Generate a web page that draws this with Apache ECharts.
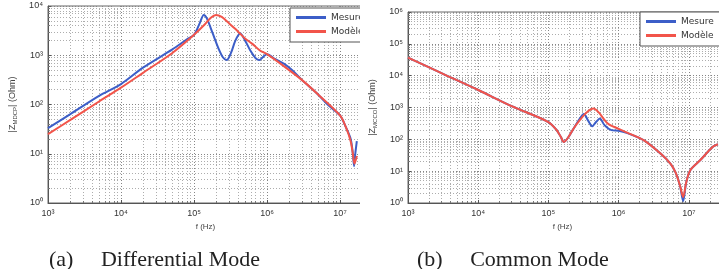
<!DOCTYPE html>
<html>
<head>
<meta charset="utf-8">
<script src="https://cdn.jsdelivr.net/npm/echarts@6/dist/echarts.min.js"></script>
<style>
	body { margin: 0; background: #fff; }
	.clip { position: absolute; top: 0; height: 269px; overflow: hidden; }
	.chart { position: absolute; left: 0; top: 0; height: 269px; }
</style>
</head>
<body>
<div class="clip" style="left:0;width:360px"><div id="dm" class="chart" style="width:430px"></div></div>
<div class="clip" style="left:360px;width:359px"><div id="cm" class="chart" style="width:420px"></div></div>
<script>
// mode differentiel - mesure
var freqDmMes = [1e3, 2e3, 5e3, 1e4, 2e4, 5e4, 8e4, 1e5, 1.2e5, 1.36e5, 1.5e5, 1.8e5, 2.2e5, 2.5e5, 2.8e5, 3.2e5, 3.7e5, 4.3e5, 5e5, 6e5, 7e5, 7.9e5, 9e5, 1e6, 1.3e6, 1.74e6, 2.2e6, 3e6, 5e6, 7e6, 1e7, 1.2e7, 1.4e7, 1.5e7, 1.56e7, 1.62e7, 1.7e7]
var zDmMes = [33, 63, 150, 260, 560, 1300, 2100, 2600, 4500, 6600, 5600, 2800, 1300, 900, 800, 1100, 2000, 2750, 2000, 1200, 870, 800, 950, 1050, 830, 660, 500, 316, 160, 95, 60, 35, 20, 10, 5.6, 10, 18]
// mode differentiel - modele
var freqDmMod = [1e3, 2e3, 5e3, 1e4, 2e4, 5e4, 1e5, 1.4e5, 1.7e5, 2e5, 2.4e5, 3e5, 3.7e5, 5e5, 6.3e5, 8e5, 1e6, 1.7e6, 3e6, 5e6, 1e7, 1.2e7, 1.4e7, 1.5e7, 1.58e7, 1.7e7]
var zDmMod = [25, 48, 115, 220, 440, 1100, 2600, 4200, 5800, 6600, 6000, 4500, 3400, 2200, 1700, 1250, 1050, 600, 316, 160, 60, 35, 18, 10, 6.3, 9]
// mode commun - mesure
var freqCmMes = [1e3, 3e3, 1e4, 3e4, 1e5, 1.3e5, 1.5e5, 1.66e5, 1.9e5, 2.3e5, 2.8e5, 3.2e5, 3.7e5, 4.2e5, 4.8e5, 5.4e5, 6.3e5, 7.9e5, 1e6, 1.3e6, 2.3e6, 4e6, 5.5e6, 6.5e6, 7.5e6, 8.3e6, 9.2e6, 1.05e7, 1.45e7, 2.2e7, 2.6e7]
var zCmMes = [37000, 12000, 3550, 1100, 350, 200, 120, 83, 112, 224, 450, 620, 380, 257, 355, 450, 280, 195, 186, 160, 93, 35, 17, 9, 3.5, 1.15, 4.5, 10.7, 22, 58, 70]
// mode commun - modele
var freqCmMod = [1e3, 3e3, 1e4, 3e4, 1e5, 1.3e5, 1.5e5, 1.66e5, 1.9e5, 2.3e5, 2.8e5, 3.5e5, 4.4e5, 5.2e5, 7e5, 1e6, 1.3e6, 2.3e6, 4e6, 5.5e6, 6.5e6, 7.5e6, 8.3e6, 9.2e6, 1.05e7, 1.45e7, 2.2e7, 2.6e7]
var zCmMod = [37000, 12000, 3550, 1100, 350, 200, 120, 83, 112, 224, 400, 700, 930, 700, 316, 214, 166, 93, 35, 17, 9, 3.5, 1.55, 4.5, 10.7, 22, 58, 70]

var legendNames = ['Mesure', 'Modèle']
var colors = ['#3c5ec8', '#f2544a']
var sup = ['⁰', '¹', '²', '³', '⁴', '⁵', '⁶', '⁷', '⁸']

function pairs(f, z){
	var out = []
	for (var i = 0; i < f.length; i++) out.push([f[i], z[i]])
	return out
}

function powLabel(v){
	var e = Math.round(Math.log10(v))
	if (Math.abs(Math.log10(v) - e) > 1e-6) return ''
	return '10' + sup[e]
}

function makeOption(cfg){
	var gridLine = { show: true, lineStyle: { color: '#858585', type: [1, 2], width: 1 } }
	var minorLine = { show: true, lineStyle: { color: '#adadad', type: [1, 2], width: 1 } }
	return {
		animation: false,
		title: {
			text: cfg.caption,
			left: cfg.capLeft, top: 244,
			textStyle: { fontFamily: 'Liberation Serif', fontSize: 22, fontWeight: 'normal', color: '#222' }
		},
		legend: {
			orient: 'vertical',
			left: cfg.legLeft, top: cfg.legTop,
			data: legendNames,
			icon: 'rect', itemWidth: 30, itemHeight: 3, itemGap: 5,
			padding: [5, 40, 6, 6],
			backgroundColor: '#fff', borderColor: '#555', borderWidth: 1,
			textStyle: { fontSize: 9, color: '#333', fontFamily: 'DejaVu Sans' }
		},
		grid: { left: 43, top: cfg.top, height: 203 - cfg.top, width: cfg.width, show: true, borderColor: '#666', borderWidth: 1, backgroundColor: '#fff' },
		xAxis: {
			type: 'log', logBase: 10, min: 1e3, max: 1e8,
			name: 'f (Hz)', nameLocation: 'middle', nameGap: 20,
			nameTextStyle: { fontSize: 8, color: '#444', padding: [0, cfg.namePad, 0, 0] },
			axisLine: { lineStyle: { color: '#555' } },
			axisTick: { inside: true, length: 3, lineStyle: { color: '#555' } },
			minorTick: { show: true, splitNumber: 9, length: 2, lineStyle: { color: '#777' } },
			axisLabel: { fontSize: 9, color: '#333', margin: 6, formatter: powLabel },
			splitLine: gridLine,
			minorSplitLine: minorLine
		},
		yAxis: {
			type: 'log', logBase: 10, min: 1, max: cfg.yMax,
			name: cfg.yName, nameLocation: 'middle', nameGap: 30, nameRotate: 90,
			nameTextStyle: { fontSize: 9, color: '#444', rich: { s: { fontSize: 6, color: '#444', padding: [5, 0, 0, 0] } } },
			axisLine: { lineStyle: { color: '#555' } },
			axisTick: { inside: true, length: 3, lineStyle: { color: '#555' } },
			minorTick: { show: true, splitNumber: 9, length: 2, lineStyle: { color: '#777' } },
			axisLabel: { fontSize: 9, color: '#333', margin: 5, formatter: powLabel },
			splitLine: gridLine,
			minorSplitLine: minorLine
		},
		series: [
			{ name: legendNames[0], type: 'line', data: pairs(cfg.fMes, cfg.zMes), smooth: 0.3, symbol: 'none', lineStyle: { color: colors[0], width: 2 }, itemStyle: { color: colors[0] } },
			{ name: legendNames[1], type: 'line', data: pairs(cfg.fMod, cfg.zMod), smooth: 0.3, symbol: 'none', lineStyle: { color: colors[1], width: 2 }, itemStyle: { color: colors[1] } }
		]
	}
}

var dm = echarts.init(document.getElementById('dm'))
dm.setOption(makeOption({
	caption: '(a)     Differential Mode', capLeft: 44,
	legLeft: 290, legTop: 8,
	top: 6, width: 370, namePad: 50, yMax: 1e4,
	yName: '|Z{s|MDCP}| (Ohm)',
	fMes: freqDmMes, zMes: zDmMes, fMod: freqDmMod, zMod: zDmMod
}))

var cm = echarts.init(document.getElementById('cm'))
cm.setOption(makeOption({
	caption: '(b)     Common Mode', capLeft: 52,
	legLeft: 280, legTop: 12,
	top: 12, width: 356, namePad: 42, yMax: 1e6,
	yName: '|Z{s|MCCO}| (Ohm)',
	fMes: freqCmMes, zMes: zCmMes, fMod: freqCmMod, zMod: zCmMod
}))
</script>
</body>
</html>
